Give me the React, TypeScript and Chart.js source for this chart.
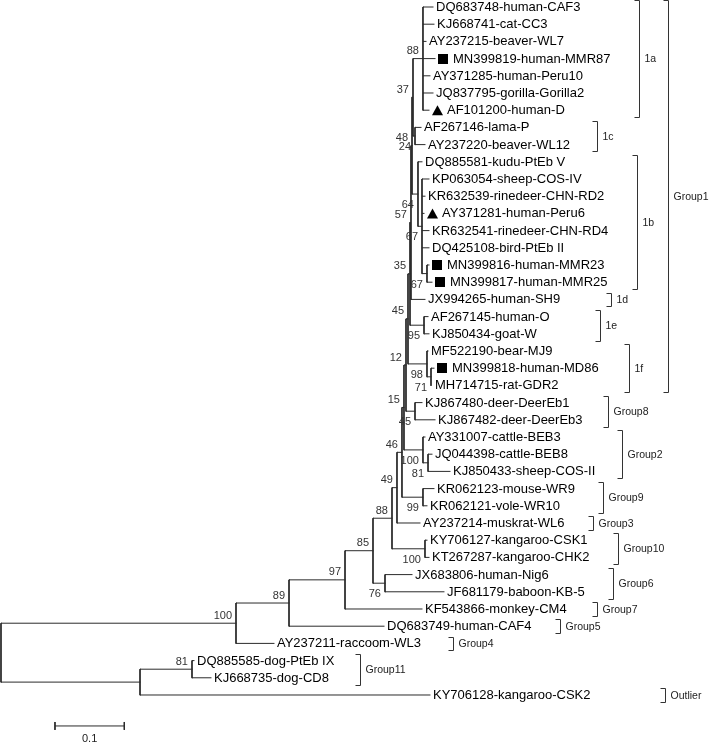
import React, { useEffect, useRef } from 'react';
import { Chart, registerables } from 'chart.js';

Chart.register(...registerables);

// ---- leaves (top to bottom) ----
const leafNames: string[] = [
  'DQ683748-human-CAF3', 'KJ668741-cat-CC3', 'AY237215-beaver-WL7', 'MN399819-human-MMR87',
  'AY371285-human-Peru10', 'JQ837795-gorilla-Gorilla2', 'AF101200-human-D', 'AF267146-lama-P',
  'AY237220-beaver-WL12', 'DQ885581-kudu-PtEb V', 'KP063054-sheep-COS-IV', 'KR632539-rinedeer-CHN-RD2',
  'AY371281-human-Peru6', 'KR632541-rinedeer-CHN-RD4', 'DQ425108-bird-PtEb II', 'MN399816-human-MMR23',
  'MN399817-human-MMR25', 'JX994265-human-SH9', 'AF267145-human-O', 'KJ850434-goat-W',
  'MF522190-bear-MJ9', 'MN399818-human-MD86', 'MH714715-rat-GDR2', 'KJ867480-deer-DeerEb1',
  'KJ867482-deer-DeerEb3', 'AY331007-cattle-BEB3', 'JQ044398-cattle-BEB8', 'KJ850433-sheep-COS-II',
  'KR062123-mouse-WR9', 'KR062121-vole-WR10', 'AY237214-muskrat-WL6', 'KY706127-kangaroo-CSK1',
  'KT267287-kangaroo-CHK2', 'JX683806-human-Nig6', 'JF681179-baboon-KB-5', 'KF543866-monkey-CM4',
  'DQ683749-human-CAF4', 'AY237211-raccoom-WL3', 'DQ885585-dog-PtEb IX', 'KJ668735-dog-CD8',
  'KY706128-kangaroo-CSK2',
];

// distance of each leaf tip from the root (substitutions per site)
const leafDepth: number[] = [
  0.6234, 0.6248, 0.6133, 0.6263, 0.6190, 0.6234, 0.6176, 0.6061,
  0.6118, 0.6075, 0.6176, 0.6118, 0.6104, 0.6176, 0.6176, 0.6176,
  0.6219, 0.6118, 0.6162, 0.6176, 0.6162, 0.6248, 0.6219, 0.6075,
  0.6263, 0.6118, 0.6219, 0.6479, 0.6248, 0.6147, 0.6046, 0.6147,
  0.6176, 0.5931, 0.6392, 0.6075, 0.5527, 0.3939, 0.2785, 0.3030,
  0.6190,
];

const squareLeaves: number[] = [3, 15, 16, 21];
const triangleLeaves: number[] = [6, 12];

// ---- internal nodes ----
const nodeIds: string[] = [
  'root', 'A', 'B', 'C', 'D', 'N76', 'E', 'KANG', 'F', 'G', 'MV', 'H', 'CAT', 'N81',
  'N12', 'DEER', 'G1', 'F1', 'N71', 'N35', 'E1', 'N57', 'N48', 'N37', 'A1', 'C1',
  'N64', 'N67a', 'N67b', 'I', 'DOG',
];
const nodeDepth: number[] = [
  0, 0.3391, 0.4156, 0.4964, 0.5368, 0.5541, 0.5642, 0.6118, 0.5714, 0.5786, 0.6089, 0.5815, 0.6089, 0.6162,
  0.5844, 0.5974, 0.5873, 0.6147, 0.6205, 0.5902, 0.6104, 0.5916, 0.5931, 0.5945, 0.6089, 0.5974,
  0.6017, 0.6075, 0.6147, 0.2006, 0.2756,
];
const nodeKids: (number | string)[][] = [
  ['A', 'I'], ['B', 37], ['C', 36], ['D', 35], ['E', 'N76'], [33, 34], ['F', 'KANG'], [31, 32],
  ['G', 30], ['H', 'MV'], [28, 29], ['N12', 'CAT'], [25, 'N81'], [26, 27],
  ['G1', 'DEER'], [23, 24], ['N35', 'F1'], [20, 'N71'], [21, 22], ['N57', 'E1'], [18, 19],
  ['N48', 17], ['N37', 'N64'], ['A1', 'C1'], [0, 1, 2, 3, 4, 5, 6], [7, 8],
  [9, 'N67a'], [10, 11, 12, 13, 14, 'N67b'], [15, 16], ['DOG', 40], [38, 39],
];
const nodeSupport: (number | null)[] = [
  null, 100, 89, 97, 85, 76, 88, 100, 49, 46, 99, 15, 100, 81,
  12, 45, 45, 98, 71, 35, 95, 57, 48, 37, 88, 24,
  64, 67, 67, null, 81,
];

// ---- clade brackets ----
const bracketNames: string[] = [
  '1a', '1c', '1b', '1d', '1e', '1f', 'Group1', 'Group8', 'Group2', 'Group9',
  'Group3', 'Group10', 'Group6', 'Group7', 'Group5', 'Group4', 'Group11', 'Outlier',
];
const bracketFirst: number[] = [0, 7, 9, 17, 18, 20, 0, 23, 25, 28, 30, 31, 33, 35, 36, 37, 38, 40];
const bracketLast: number[] = [6, 8, 16, 17, 19, 22, 22, 24, 27, 29, 30, 32, 34, 35, 36, 37, 39, 40];
const bracketAt: number[] = [
  0.9206, 0.8600, 0.9177, 0.8802, 0.8644, 0.9062, 0.9625, 0.8759, 0.8961, 0.8687,
  0.8543, 0.8903, 0.8831, 0.8600, 0.8066, 0.6522, 0.5180, 0.9582,
];

// ---- scale bar ----
const scaleBarStart = 0.0779;
const scaleBarLength = 0.1;
const scaleBarLabel = '0.1';
const scaleBarRow = 41.8;

const X_MIN = -0.00144;
const X_MAX = 1.02165;
const Y_MIN = -0.407;
const Y_MAX = 42.791;

const FONT = '"Liberation Sans", Arial, Helvetica, sans-serif';

function buildTree() {
  const idx: Record<string, number> = {};
  nodeIds.forEach((id, i) => (idx[id] = i));
  const nodeY: number[] = new Array(nodeIds.length).fill(NaN);
  const depthOf = (k: number | string) => (typeof k === 'number' ? leafDepth[k] : nodeDepth[idx[k]]);
  const yOf = (k: number | string): number => {
    if (typeof k === 'number') return k;
    const i = idx[k];
    if (isNaN(nodeY[i])) {
      const kids = nodeKids[i];
      nodeY[i] = (yOf(kids[0]) + yOf(kids[kids.length - 1])) / 2;
    }
    return nodeY[i];
  };
  nodeIds.forEach((id) => yOf(id));
  const firstChild: boolean[] = new Array(nodeIds.length).fill(true);
  nodeKids.forEach((kids) => {
    kids.forEach((k, j) => {
      if (typeof k === 'string') firstChild[idx[k]] = j === 0;
    });
  });
  const seg: { x: number; y: number | null }[] = [];
  nodeIds.forEach((id, i) => {
    const kids = nodeKids[i];
    const d = nodeDepth[i];
    seg.push({ x: d, y: yOf(kids[0]) }, { x: d, y: yOf(kids[kids.length - 1]) }, { x: d, y: null });
    kids.forEach((k) => {
      seg.push({ x: d, y: yOf(k) }, { x: depthOf(k), y: yOf(k) }, { x: d, y: null });
    });
  });
  return { nodeY, firstChild, seg };
}

export default function App() {
  const ref = useRef<HTMLCanvasElement | null>(null);

  useEffect(() => {
    if (!ref.current) return;
    const { nodeY, firstChild, seg } = buildTree();
    const tick = 0.23;
    const bar = [
      { x: scaleBarStart, y: scaleBarRow - tick }, { x: scaleBarStart, y: scaleBarRow + tick }, { x: scaleBarStart, y: null },
      { x: scaleBarStart, y: scaleBarRow }, { x: scaleBarStart + scaleBarLength, y: scaleBarRow }, { x: scaleBarStart, y: null },
      { x: scaleBarStart + scaleBarLength, y: scaleBarRow - tick }, { x: scaleBarStart + scaleBarLength, y: scaleBarRow + tick },
    ];

    const textPlugin = {
      id: 'treeText',
      afterDatasetsDraw(chart: any) {
        const ctx: CanvasRenderingContext2D = chart.ctx;
        const xs = chart.scales.x;
        const ys = chart.scales.y;
        ctx.save();
        // leaf labels + markers
        ctx.font = `13px ${FONT}`;
        ctx.textAlign = 'left';
        ctx.textBaseline = 'middle';
        ctx.fillStyle = '#000';
        leafNames.forEach((name, i) => {
          const px = xs.getPixelForValue(leafDepth[i]);
          const py = ys.getPixelForValue(i);
          let tx = px + 3;
          if (squareLeaves.includes(i)) {
            ctx.fillRect(Math.round(px + 3), Math.round(py - 5), 10, 10);
            tx = px + 18;
          } else if (triangleLeaves.includes(i)) {
            ctx.beginPath();
            ctx.moveTo(px + 3, py + 5);
            ctx.lineTo(px + 14, py + 5);
            ctx.lineTo(px + 8.5, py - 5);
            ctx.closePath();
            ctx.fill();
            tx = px + 18;
          }
          ctx.fillText(name, tx, py + 0.5);
        });
        // bootstrap values
        ctx.font = `11px ${FONT}`;
        ctx.textAlign = 'right';
        ctx.fillStyle = '#333';
        nodeIds.forEach((id, i) => {
          const s = nodeSupport[i];
          if (s === null) return;
          const px = xs.getPixelForValue(nodeDepth[i]) - 4;
          const py = ys.getPixelForValue(nodeY[i]) + (firstChild[i] ? -7.5 : 11);
          ctx.fillText(String(s), px, py);
        });
        // brackets
        ctx.strokeStyle = '#333';
        ctx.lineWidth = 1;
        ctx.font = `10.5px ${FONT}`;
        ctx.textAlign = 'left';
        ctx.fillStyle = '#222';
        bracketNames.forEach((name, i) => {
          const bx = Math.round(xs.getPixelForValue(bracketAt[i])) + 0.5;
          const y0 = Math.round(ys.getPixelForValue(bracketFirst[i] - 0.4)) + 0.5;
          const y1 = Math.round(ys.getPixelForValue(bracketLast[i] + 0.4)) + 0.5;
          ctx.beginPath();
          ctx.moveTo(bx - 5, y0);
          ctx.lineTo(bx, y0);
          ctx.lineTo(bx, y1);
          ctx.lineTo(bx - 5, y1);
          ctx.stroke();
          ctx.fillText(name, bx + 5, (y0 + y1) / 2 + 0.5);
        });
        // scale bar label
        ctx.font = `11px ${FONT}`;
        ctx.textAlign = 'center';
        ctx.fillStyle = '#222';
        ctx.fillText(
          scaleBarLabel,
          xs.getPixelForValue(scaleBarStart + scaleBarLength / 2),
          ys.getPixelForValue(scaleBarRow) + 13
        );
        ctx.restore();
      },
    };

    const chart = new Chart(ref.current, {
      type: 'scatter',
      data: {
        datasets: [
          {
            data: seg as any,
            showLine: true,
            borderColor: '#2b2b2b',
            borderWidth: 1,
            pointRadius: 0,
            pointHoverRadius: 0,
            spanGaps: false,
            borderCapStyle: 'square',
          },
          {
            data: bar as any,
            showLine: true,
            borderColor: '#2b2b2b',
            borderWidth: 1,
            pointRadius: 0,
            pointHoverRadius: 0,
            spanGaps: false,
          },
        ],
      },
      options: {
        responsive: false,
        maintainAspectRatio: false,
        devicePixelRatio: 1,
        animation: false,
        events: [],
        layout: { padding: 0 },
        plugins: { legend: { display: false }, tooltip: { enabled: false } },
        scales: {
          x: { type: 'linear', min: X_MIN, max: X_MAX, display: false },
          y: { type: 'linear', min: Y_MIN, max: Y_MAX, reverse: true, display: false },
        },
      },
      plugins: [textPlugin],
    });
    return () => chart.destroy();
  }, []);

  return (
    <div style={{ position: 'absolute', left: 0, top: 0, width: 709, height: 743, background: '#fff' }}>
      <canvas ref={ref} width={709} height={743} style={{ display: 'block' }} />
    </div>
  );
}
